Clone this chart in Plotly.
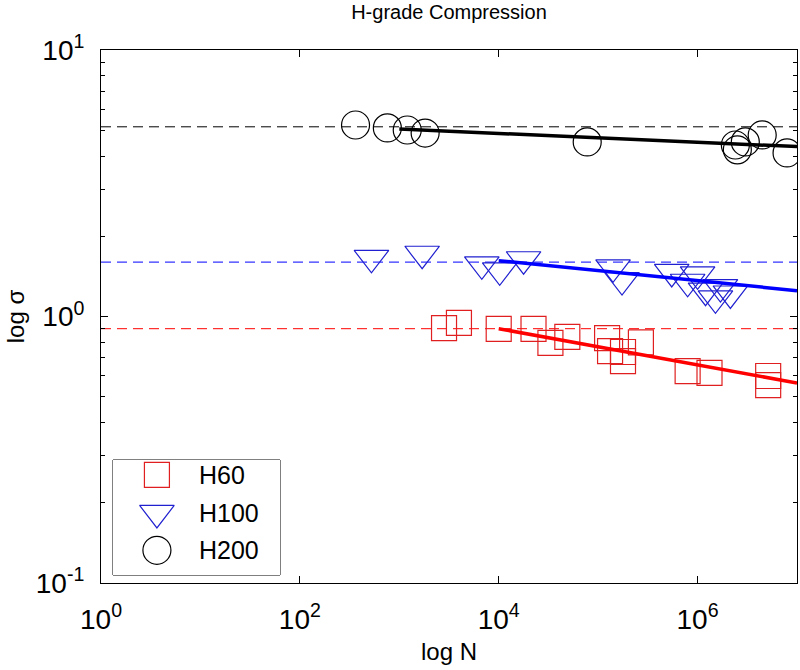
import plotly.graph_objects as go

# ---------------- data ----------------
series_names = ["H60", "H100", "H200"]

h60_N = [10**3.45, 10**3.60, 10**4.00, 10**4.35, 10**4.52, 10**4.69, 10**5.09, 10**5.12,
         10**5.25, 10**5.25, 10**5.43, 10**5.90, 10**6.12, 10**6.71, 10**6.71]
h60_s = [0.905, 0.946, 0.898, 0.898, 0.796, 0.838, 0.830, 0.742,
         0.736, 0.680, 0.800, 0.624, 0.614, 0.598, 0.553]

h100_N = [10**2.72, 10**3.23, 10**3.83, 10**4.01, 10**4.25, 10**5.15, 10**5.24, 10**5.74,
          10**5.90, 10**6.00, 10**6.08, 10**6.18, 10**6.23, 10**6.33]
h100_s = [1.66, 1.72, 1.57, 1.49, 1.64, 1.53, 1.37, 1.47,
          1.35, 1.44, 1.25, 1.17, 1.29, 1.22]

h200_N = [10**2.56, 10**2.88, 10**3.08, 10**3.26, 10**4.89, 10**6.38, 10**6.40, 10**6.48,
          10**6.65, 10**6.90]
h200_s = [5.23, 5.10, 5.01, 4.88, 4.52, 4.40, 4.22, 4.52, 4.80, 4.11]

# reference (static) levels, dashed
static_levels = [0.90, 1.60, 5.15]
static_N = [1, 1e7]

# fitted S-N lines (endpoints)
fit_N = [[1e4, 1e7], [1e4, 1e7], [1e3, 1e7]]
fit_s = [[0.90, 0.563], [1.62, 1.25], [5.05, 4.34]]

x_tickvals = [1, 1e2, 1e4, 1e6]
x_ticktext = ["10<sup>0</sup>", "10<sup>2</sup>", "10<sup>4</sup>", "10<sup>6</sup>"]
y_tickvals = [0.1, 1, 10]
y_ticktext = ["10<sup>-1</sup>", "10<sup>0</sup>", "10<sup>1</sup>"]

# ---------------- style ----------------
colors = ["#e02020", "#2020d0", "#000000"]
line_colors = ["#ff0000", "#0000ff", "#000000"]
symbols = ["square-open", "triangle-down-open", "circle-open"]
sizes = [25, 30, 28]
FONT = "Liberation Sans, Arial, Helvetica, sans-serif"

fig = go.Figure()
data_N = [h60_N, h100_N, h200_N]
data_s = [h60_s, h100_s, h200_s]

for i in range(3):
    fig.add_trace(go.Scatter(x=static_N, y=[static_levels[i]] * 2, mode="lines",
                             line=dict(color=line_colors[i], width=1, dash="10px,6px"),
                             showlegend=False, hoverinfo="skip"))
for i in range(3):
    fig.add_trace(go.Scatter(x=data_N[i], y=data_s[i], mode="markers", name=series_names[i],
                             marker=dict(symbol=symbols[i], size=sizes[i], color=colors[i],
                                         line=dict(width=1.2, color=colors[i])),
                             showlegend=False))
for i in range(3):
    fig.add_trace(go.Scatter(x=fit_N[i], y=fit_s[i], mode="lines",
                             line=dict(color=line_colors[i], width=3.5),
                             showlegend=False, hoverinfo="skip"))

# ---------------- custom legend (separate invisible axes) ----------------
leg_y = [0.87, 0.54, 0.215]
for i in range(3):
    fig.add_trace(go.Scatter(x=[0.263], y=[leg_y[i]], xaxis="x2", yaxis="y2", mode="markers",
                             marker=dict(symbol=symbols[i], size=sizes[i], color=colors[i],
                                         line=dict(width=1.2, color=colors[i])),
                             showlegend=False, hoverinfo="skip", cliponaxis=False))
    fig.add_annotation(x=0.505, y=leg_y[i], xref="x2", yref="y2", text=series_names[i],
                       showarrow=False, xanchor="left", yanchor="middle",
                       font=dict(family=FONT, size=25, color="black"))

W, H = 800, 670
L, R, T, B = 101, 3, 50, 87
pw, ph = W - L - R, H - T - B


def px_x(p):
    return (p - L) / pw


def px_y(p):
    return (H - B - p) / ph


fig.add_shape(type="rect", xref="x2 domain", yref="y2 domain", x0=0, x1=1, y0=0, y1=1,
              line=dict(color="black", width=1), fillcolor="white", layer="below")

axis_common = dict(type="log", showgrid=False, zeroline=False, showline=True, linecolor="black",
                   linewidth=1, mirror="ticks", ticks="inside", ticklen=7, tickcolor="black",
                   automargin=False,
                   tickfont=dict(family=FONT, size=28, color="black"))

fig.update_layout(
    width=W, height=H,
    margin=dict(l=L, r=R, t=T, b=B, autoexpand=False),
    paper_bgcolor="white", plot_bgcolor="white",
    font=dict(family=FONT, color="black"),
    title=dict(text="H-grade Compression", x=(L + pw / 2) / W, xanchor="center",
               y=1 - 12 / H, yanchor="middle", font=dict(family=FONT, size=20, color="black"),
               automargin=False),
    xaxis=dict(range=[0, 7], tickvals=x_tickvals, ticktext=x_ticktext,
               title=dict(text="log N", font=dict(family=FONT, size=24), standoff=9),
               ticklabelstandoff=11, **axis_common),
    yaxis=dict(range=[-1, 1], tickvals=y_tickvals, ticktext=y_ticktext,
               title=dict(text="log σ", font=dict(family=FONT, size=24), standoff=4),
               ticklabelstandoff=10,
               minor=dict(ticks="inside", ticklen=4, dtick="D1", tickcolor="black"),
               **axis_common),
    xaxis2=dict(domain=[px_x(113), px_x(280)], range=[0, 1], visible=False, anchor="y2"),
    yaxis2=dict(domain=[px_y(575), px_y(460)], range=[0, 1], visible=False, anchor="x2"),
    showlegend=False,
)

fig.write_html("out.html", config={"displayModeBar": False},
               post_script="document.body.style.margin='0';document.body.style.overflow='hidden';")
